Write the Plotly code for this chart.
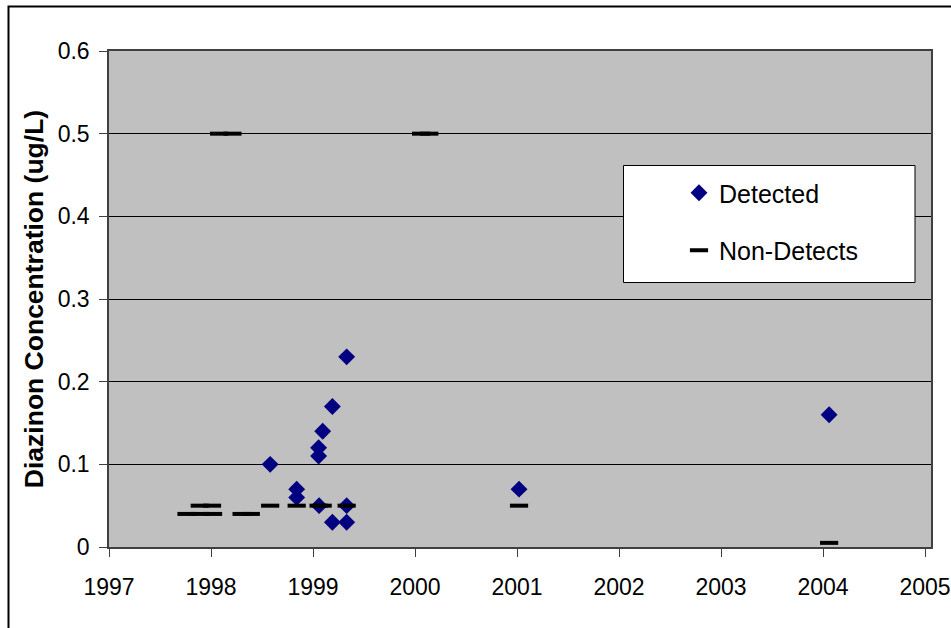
import plotly.graph_objects as go

# ---- data (decimal years, ug/L) ----
det_dates = [1998.58, 1998.84, 1998.84, 1999.055, 1999.055, 1999.06, 1999.095,
             1999.19, 1999.19, 1999.33, 1999.33, 1999.33, 2001.02, 2004.06]
det_vals = [0.10, 0.07, 0.06, 0.12, 0.11, 0.05, 0.14,
            0.17, 0.03, 0.23, 0.05, 0.03, 0.07, 0.16]

nd_dates = [1997.76, 1997.89, 1998.02, 1998.30, 1998.39,
            1997.89, 1998.01, 1998.58, 1998.84, 1999.055, 1999.095, 1999.33,
            1998.08, 1998.21, 2000.06, 2000.14, 2001.02, 2004.06]
nd_vals = [0.04, 0.04, 0.04, 0.04, 0.04,
           0.05, 0.05, 0.05, 0.05, 0.05, 0.05, 0.05,
           0.5, 0.5, 0.5, 0.5, 0.05, 0.005]

x_ticks = [1997, 1998, 1999, 2000, 2001, 2002, 2003, 2004, 2005]
y_ticks = [0, 0.1, 0.2, 0.3, 0.4, 0.5, 0.6]

W, H = 951, 628
ML, MR, MT, MB = 109, 951 - 931, 51, 628 - 547
PW, PH = W - ML - MR, H - MT - MB


def px(xp):
    return (xp - ML) / PW


def py(yp):
    return (H - MB - yp) / PH


FONT = "Liberation Sans, Arial, sans-serif"

fig = go.Figure()
fig.add_trace(go.Scatter(
    x=det_dates, y=det_vals, mode="markers", name="Detected",
    legendgroup="a",
    marker=dict(symbol="diamond", size=13, color="#000080",
                line=dict(width=0)),
))
fig.add_trace(go.Scatter(
    x=nd_dates, y=nd_vals, mode="markers", name="Non-Detects",
    legendgroup="b",
    marker=dict(symbol="line-ew", size=13, color="black",
                line=dict(width=4, color="black")),
))

shapes = [
    # legend box
    dict(type="rect", xref="paper", yref="paper",
         x0=px(623.5), x1=px(915), y0=py(282.5), y1=py(165.5),
         fillcolor="white", line=dict(color="black", width=1), layer="above"),
    # outer chart frame
    dict(type="rect", xref="paper", yref="paper",
         x0=px(8.5), x1=px(990), y0=py(660), y1=py(6.5),
         fillcolor="rgba(0,0,0,0)", line=dict(color="black", width=2),
         layer="above"),
]

fig.update_layout(
    width=W, height=H, autosize=False,
    margin=dict(l=ML, r=MR, t=MT, b=MB, autoexpand=False),
    paper_bgcolor="white", plot_bgcolor="#C0C0C0",
    font=dict(family=FONT, size=23, color="black"),
    showlegend=True,
    legend=dict(x=px(679), y=py(170), xanchor="left", yanchor="top",
                bgcolor="rgba(0,0,0,0)", borderwidth=0,
                traceorder="grouped", tracegroupgap=22,
                font=dict(family=FONT, size=25, color="black")),
    shapes=shapes,
    xaxis=dict(range=[1997, 2005 + 6 / 102], tickvals=x_ticks,
               ticktext=[str(v) for v in x_ticks], automargin=False,
               showgrid=False, zeroline=False,
               showline=True, linecolor="#404040", linewidth=1.5, mirror=True,
               ticks="outside", ticklen=8, tickcolor="#404040", tickwidth=1,
               tickfont=dict(size=23), ticklabelstandoff=11),
    yaxis=dict(range=[0, 0.6], tickvals=y_ticks, automargin=False,
               ticktext=["0", "0.1", "0.2", "0.3", "0.4", "0.5", "0.6"],
               showgrid=True, gridcolor="black", gridwidth=1, zeroline=False,
               showline=True, linecolor="#404040", linewidth=1.5, mirror=True,
               ticks="outside", ticklen=8, tickcolor="#404040", tickwidth=1,
               tickfont=dict(size=23), ticklabelstandoff=5,
               title=dict(text="<b>Diazinon Concentration (ug/L)</b>",
                          font=dict(size=26.5), standoff=6)),
)

fig.write_html("out.html",
               config={"displayModeBar": False},
               post_script="document.body.style.margin='0';document.body.style.padding='0';")
